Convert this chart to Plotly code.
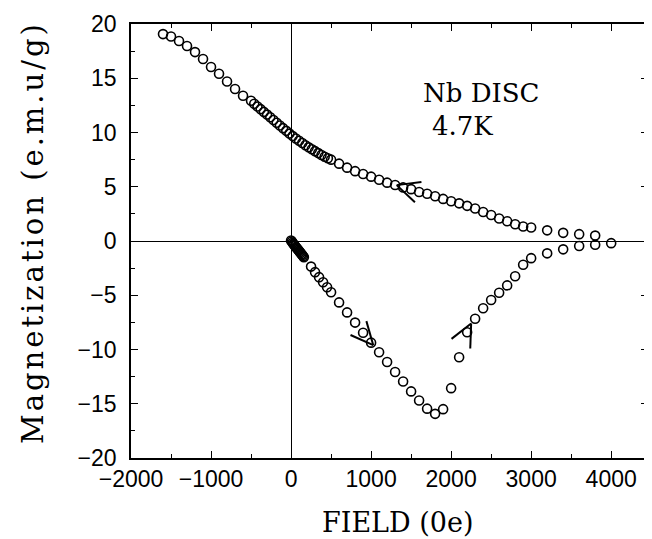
import math
import plotly.graph_objects as go

# ---------------- data ----------------
# Upper branch: field decreasing from 4 kOe
up_field = [3800, 3600, 3400, 3200, 3000, 2900, 2800, 2700, 2600, 2500, 2400,
            2300, 2200, 2100, 2000, 1900, 1800, 1700, 1600, 1500, 1400, 1300,
            1200, 1100, 1000, 900, 800, 700, 600, 500,
            460, 420, 380, 340, 300, 260, 220, 180, 140, 100, 60, 20,
            -20, -60, -100, -140, -180, -220, -260, -300, -340, -380, -420, -460,
            -500, -600, -700, -800, -900, -1000, -1100, -1200, -1300, -1400,
            -1500, -1600]
up_mag = [0.50, 0.63, 0.75, 0.98, 1.24, 1.34, 1.55, 1.82, 2.07, 2.39, 2.67,
          2.99, 3.24, 3.47, 3.66, 3.88, 4.13, 4.36, 4.52, 4.78, 4.94, 5.16,
          5.38, 5.64, 5.93, 6.18, 6.44, 6.76, 7.13, 7.50,
          7.62, 7.77, 7.93, 8.10, 8.28, 8.45, 8.63, 8.83, 9.03, 9.24, 9.45, 9.67,
          9.90, 10.15, 10.40, 10.65, 10.90, 11.15, 11.40, 11.65, 11.90, 12.15, 12.40, 12.65,
          12.92, 13.39, 14.01, 14.70, 15.41, 16.04, 16.78, 17.41, 17.97, 18.44,
          18.85, 19.07]

# Lower (virgin) branch: field increasing from zero
lo_field = [0, 10, 20, 30, 40, 50, 60, 70, 80, 90, 100, 110, 120, 130, 140, 150, 160,
            250, 300, 350, 400, 450, 500,
            600, 700, 800, 900, 1000, 1100, 1200, 1300, 1400, 1500, 1600, 1700,
            1800, 1900, 2000, 2100, 2200, 2300, 2400, 2500, 2600, 2700, 2800,
            2900, 3000, 3200, 3400, 3600, 3800, 4000]
lo_mag = [0.05, -0.05, -0.17, -0.27, -0.36, -0.46, -0.55, -0.64, -0.74, -0.83,
          -0.93, -1.02, -1.11, -1.21, -1.30, -1.40, -1.49,
          -2.36, -2.87, -3.33, -3.80, -4.26, -4.73,
          -5.66, -6.58, -7.52, -8.45, -9.37, -10.25, -11.15, -12.08, -12.95,
          -13.86, -14.70, -15.45, -15.93, -15.50, -13.56, -10.71, -8.41, -7.16,
          -6.20, -5.44, -4.77, -4.09, -3.25, -2.19, -1.58, -1.14, -0.77, -0.46,
          -0.35, -0.20]

# Direction arrows drawn on the branches
arrow_field = [1320, 1027, 2250]
arrow_mag = [5.15, -9.6, -7.6]
arrow_angle = [162, -49, 63]   # pointing direction (deg, y up)

x_ticks = [-2000, -1000, 0, 1000, 2000, 3000, 4000]
y_ticks = [-20, -15, -10, -5, 0, 5, 10, 15, 20]

# ---------------- layout geometry ----------------
# the page body has an 8 px margin, so the figure is 8 px smaller and shifted
W, H = 644, 531
ML, MR, MT, MB = 123, 2, 16, 81
XR = [-2000, 4460]
YR = [-20, 20]
kx = (W - ML - MR) / (XR[1] - XR[0])
ky = (H - MT - MB) / (YR[1] - YR[0])

fig = go.Figure()

marker = dict(symbol="circle-open", size=9, color="black", line=dict(width=1.6, color="black"))
fig.add_trace(go.Scatter(x=up_field, y=up_mag, mode="markers", marker=marker, showlegend=False))
fig.add_trace(go.Scatter(x=lo_field, y=lo_mag, mode="markers", marker=marker, showlegend=False))

# chevron arrows
ax, ay = [], []
L, HALF = 25, 25
for xf, ym, ang in zip(arrow_field, arrow_mag, arrow_angle):
    for s in (1, -1):
        a = math.radians(ang + 180 + s * HALF)
        ax += [xf + L * math.cos(a) / kx, xf, None]
        ay += [ym + L * math.sin(a) / ky, ym, None]
fig.add_trace(go.Scatter(x=ax, y=ay, mode="lines", line=dict(color="black", width=2),
                         showlegend=False, hoverinfo="skip"))

tickfont = dict(family="Liberation Sans, Arial, sans-serif", size=23, color="black")
axis_common = dict(showline=True, linecolor="black", linewidth=1.6, mirror="allticks",
                   ticks="inside", ticklen=7, tickwidth=1.3, tickcolor="black",
                   showgrid=False, zeroline=True, zerolinecolor="black", zerolinewidth=1.3,
                   tickfont=tickfont)

fig.update_xaxes(range=XR, tickmode="array", tickvals=x_ticks,
                 minor=dict(dtick=500, ticks="inside", ticklen=4, tickcolor="black", tickwidth=1.2),
                 ticklabelstandoff=0, **axis_common)
fig.update_yaxes(range=YR, tickmode="array", tickvals=y_ticks,
                 minor=dict(dtick=2.5, ticks="inside", ticklen=4, tickcolor="black", tickwidth=1.2),
                 ticklabelstandoff=8, **axis_common)

serif = "DejaVu Serif, serif"
fig.update_layout(
    width=W, height=H,
    margin=dict(l=ML, r=MR, t=MT, b=MB),
    paper_bgcolor="white", plot_bgcolor="white",
    annotations=[
        dict(text='<span style="letter-spacing:3px">Magnetization (e.m.u/g)</span>',
             xref="paper", yref="paper", x=0, y=0.5, xshift=-98, yshift=8,
             xanchor="center", yanchor="middle", textangle=-90, showarrow=False,
             font=dict(family=serif, size=29, color="black")),
        dict(text="FIELD (0e)", xref="paper", yref="paper", x=0.5, y=0,
             xshift=8, yshift=-64, xanchor="center", yanchor="middle", showarrow=False,
             font=dict(family=serif, size=27, color="black")),
        dict(text="Nb DISC", xref="x", yref="y", x=1628, y=13.6, xanchor="left",
             yanchor="middle", showarrow=False, font=dict(family=serif, size=26, color="black")),
        dict(text="4.7K", xref="x", yref="y", x=1740, y=10.6, xanchor="left",
             yanchor="middle", showarrow=False, font=dict(family=serif, size=26, color="black")),
    ],
)

fig.write_html("out.html")
